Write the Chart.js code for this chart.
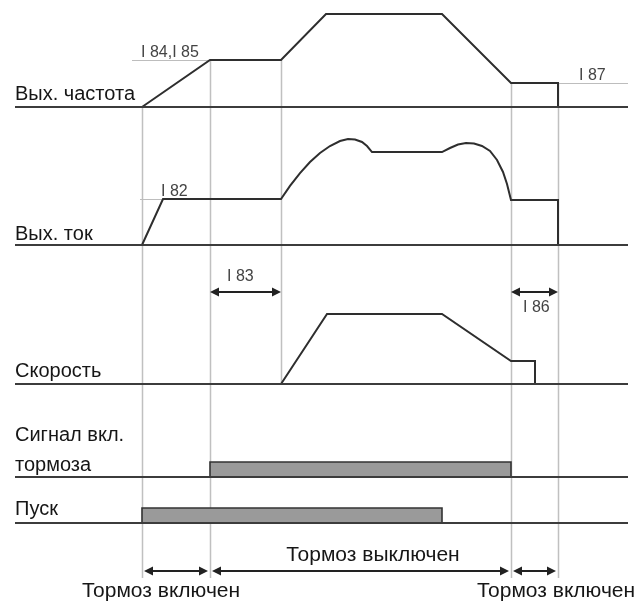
<!DOCTYPE html>
<html><head><meta charset="utf-8">
<script src="https://cdn.jsdelivr.net/npm/chart.js@4/dist/chart.umd.min.js"></script>
<style>html,body{margin:0;padding:0;background:#fff}canvas{display:block}</style>
</head><body>
<canvas id="c" width="639" height="603"></canvas>
<script>
// ---- data (time in arbitrary units, levels in % of each signal's maximum) ----
const freqTimes    = [0, 6.8, 13.9, 18.4, 30.0, 36.9, 41.6, 41.6];
const freqValues   = [0, 50.5, 50.5, 100, 100, 25.8, 25.8, 0];
const currentTimes = [0, 2.1, 13.9, 14.8, 15.8, 16.8, 17.8, 18.8, 19.8, 20.6, 21.3, 22.0, 22.5, 23.0,
                      30.0, 30.8, 31.6, 32.4, 33.2, 34.0, 34.8, 35.5, 36.1, 36.5, 36.9, 41.6, 41.6];
const currentValues= [0, 43.4, 43.4, 55.7, 67.9, 78.3, 86.8, 93.4, 98.1, 100, 99.5, 97.2, 93.4, 87.7,
                      87.7, 91.5, 94.8, 96.2, 95.8, 93.4, 88.7, 80.2, 68.9, 57.5, 42.5, 42.5, 0];
const speedTimes   = [13.9, 18.5, 30.0, 36.9, 39.3, 39.3];
const speedValues  = [0, 100, 100, 32.9, 32.9, 0];
const brakeTimes   = [6.8, 6.8, 36.9, 36.9];
const brakeValues  = [0, 1, 1, 0];
const runTimes     = [0, 0, 30.0, 30.0];
const runValues    = [0, 1, 1, 0];
const timeSpan     = [-12.7, 48.6];
const rowLabels    = ['Вых. частота', 'Вых. ток', 'Скорость', 'Сигнал вкл.', 'тормоза', 'Пуск'];
const paramLabels  = ['I 84,I 85', 'I 82', 'I 83', 'I 86', 'I 87'];
const phaseLabels  = ['Тормоз включен', 'Тормоз выключен', 'Тормоз включен'];
const phaseTimes   = [0, 6.8, 36.9, 41.6];

// ---- layout ----
const W = 639, H = 603, X0 = 142, PX_PER_T = 10;
const rows = {
  yF: {base:107, top:14,  topVal:100},
  yI: {base:245, top:139, topVal:100},
  yS: {base:384, top:314, topVal:100},
  yB: {base:477, top:462, topVal:1},
  yR: {base:523, top:508, topVal:1}
};
function rangeOf(r){ const k=(r.base-r.top)/r.topVal; return {min:(r.base-H)/k, max:r.base/k}; }
const zip = (ts, vs) => ts.map((t,i)=>({x:t, y:vs[i]}));

const SIG = '#2e2e2e', BASE = '#3c3c3c', GUIDE = '#c0c0c0';
const sig = (data, axis) => ({data, yAxisID:axis, borderColor:SIG, borderWidth:2, pointRadius:0, fill:false, tension:0});
const base = axis => ({data:zip(timeSpan,[0,0]), yAxisID:axis, borderColor:BASE, borderWidth:2.2, pointRadius:0, fill:false});
const bar = (data, axis) => ({data, yAxisID:axis, borderColor:'#333', borderWidth:1.6, pointRadius:0,
                              fill:'origin', backgroundColor:'#9a9a9a', tension:0});

const scales = { x:{type:'linear', display:false, min:-X0/PX_PER_T, max:(W-X0)/PX_PER_T, bounds:'data'} };
for (const id in rows) scales[id] = Object.assign({type:'linear', display:false, bounds:'data'}, rangeOf(rows[id]));

const FONT_BIG = '20px "Liberation Sans", Arial, sans-serif';
const FONT_PHASE = '21px "Liberation Sans", Arial, sans-serif';
const FONT_SMALL = '16px "Liberation Sans", Arial, sans-serif';

function arrow(ctx, x1, x2, y){
  const L=9, hw=4.5;
  ctx.beginPath(); ctx.moveTo(x1+L-1,y); ctx.lineTo(x2-L+1,y); ctx.lineWidth=2; ctx.strokeStyle='#222'; ctx.stroke();
  ctx.fillStyle='#222';
  ctx.beginPath(); ctx.moveTo(x1,y); ctx.lineTo(x1+L,y-hw); ctx.lineTo(x1+L,y+hw); ctx.closePath(); ctx.fill();
  ctx.beginPath(); ctx.moveTo(x2,y); ctx.lineTo(x2-L,y-hw); ctx.lineTo(x2-L,y+hw); ctx.closePath(); ctx.fill();
}

const overlay = {
  id:'overlay',
  beforeDatasetsDraw(chart){
    const ctx=chart.ctx, sx=chart.scales.x, s=chart.scales;
    const guides = [
      {t:phaseTimes[0], top:s.yF.getPixelForValue(freqValues[0]), bottom:578},
      {t:phaseTimes[1], top:s.yF.getPixelForValue(freqValues[1]), bottom:578},
      {t:freqTimes[2],  top:s.yF.getPixelForValue(freqValues[2]), bottom:s.yS.getPixelForValue(0)},
      {t:phaseTimes[2], top:s.yF.getPixelForValue(freqValues[5]), bottom:578},
      {t:phaseTimes[3], top:s.yF.getPixelForValue(freqValues[6]), bottom:578}
    ];
    ctx.save(); ctx.strokeStyle=GUIDE; ctx.lineWidth=1.5;
    for (const g of guides){ const x=Math.round(sx.getPixelForValue(g.t))+0.5;
      ctx.beginPath(); ctx.moveTo(x,g.top); ctx.lineTo(x,g.bottom); ctx.stroke(); }
    const refs = [
      {y:s.yF.getPixelForValue(freqValues[1]), x1:132, x2:sx.getPixelForValue(freqTimes[1])},
      {y:s.yI.getPixelForValue(currentValues[1]), x1:140, x2:sx.getPixelForValue(currentTimes[1])},
      {y:s.yF.getPixelForValue(freqValues[6]), x1:sx.getPixelForValue(freqTimes[6]), x2:628}
    ];
    ctx.strokeStyle='#bdbdbd'; ctx.lineWidth=1;
    for (const r of refs){ ctx.beginPath(); ctx.moveTo(r.x1,Math.round(r.y)+0.5); ctx.lineTo(r.x2,Math.round(r.y)+0.5); ctx.stroke(); }
    ctx.restore();
  },
  afterDatasetsDraw(chart){
    const ctx=chart.ctx, sx=chart.scales.x;
    const px = t => sx.getPixelForValue(t);
    ctx.save();
    ctx.textBaseline='alphabetic'; ctx.textAlign='left';
    ctx.font=FONT_BIG; ctx.fillStyle='#161616';
    const rowY=[100,240,377,441,471,515];
    rowLabels.forEach((l,i)=>ctx.fillText(l,15,rowY[i]));
    ctx.font=FONT_SMALL; ctx.fillStyle='#444';
    const pPos=[[141,57],[161,196],[227,281],[523,312],[579,80]];
    paramLabels.forEach((l,i)=>ctx.fillText(l,pPos[i][0],pPos[i][1]));
    arrow(ctx, px(phaseTimes[1]), px(freqTimes[2]), 292);
    arrow(ctx, px(phaseTimes[2]), px(phaseTimes[3]), 292);
    for (let i=0;i<3;i++) arrow(ctx, px(phaseTimes[i])+2, px(phaseTimes[i+1])-2, 571);
    ctx.font=FONT_PHASE; ctx.fillStyle='#161616';
    ctx.textAlign='center';
    ctx.fillText(phaseLabels[1], 373, 561);
    ctx.fillText(phaseLabels[0], 161, 597);
    ctx.fillText(phaseLabels[2], 556, 597);
    ctx.restore();
  }
};

new Chart(document.getElementById('c'), {
  type:'line',
  data:{ datasets:[
    base('yF'), base('yI'), base('yS'), base('yB'), base('yR'),
    bar(zip(brakeTimes, brakeValues), 'yB'),
    bar(zip(runTimes, runValues), 'yR'),
    sig(zip(freqTimes, freqValues), 'yF'),
    sig(zip(currentTimes, currentValues), 'yI'),
    sig(zip(speedTimes, speedValues), 'yS')
  ]},
  options:{
    responsive:false, animation:false, events:[],
    layout:{padding:0},
    plugins:{legend:{display:false}, tooltip:{enabled:false}},
    scales
  },
  plugins:[overlay]
});
</script>
</body></html>
